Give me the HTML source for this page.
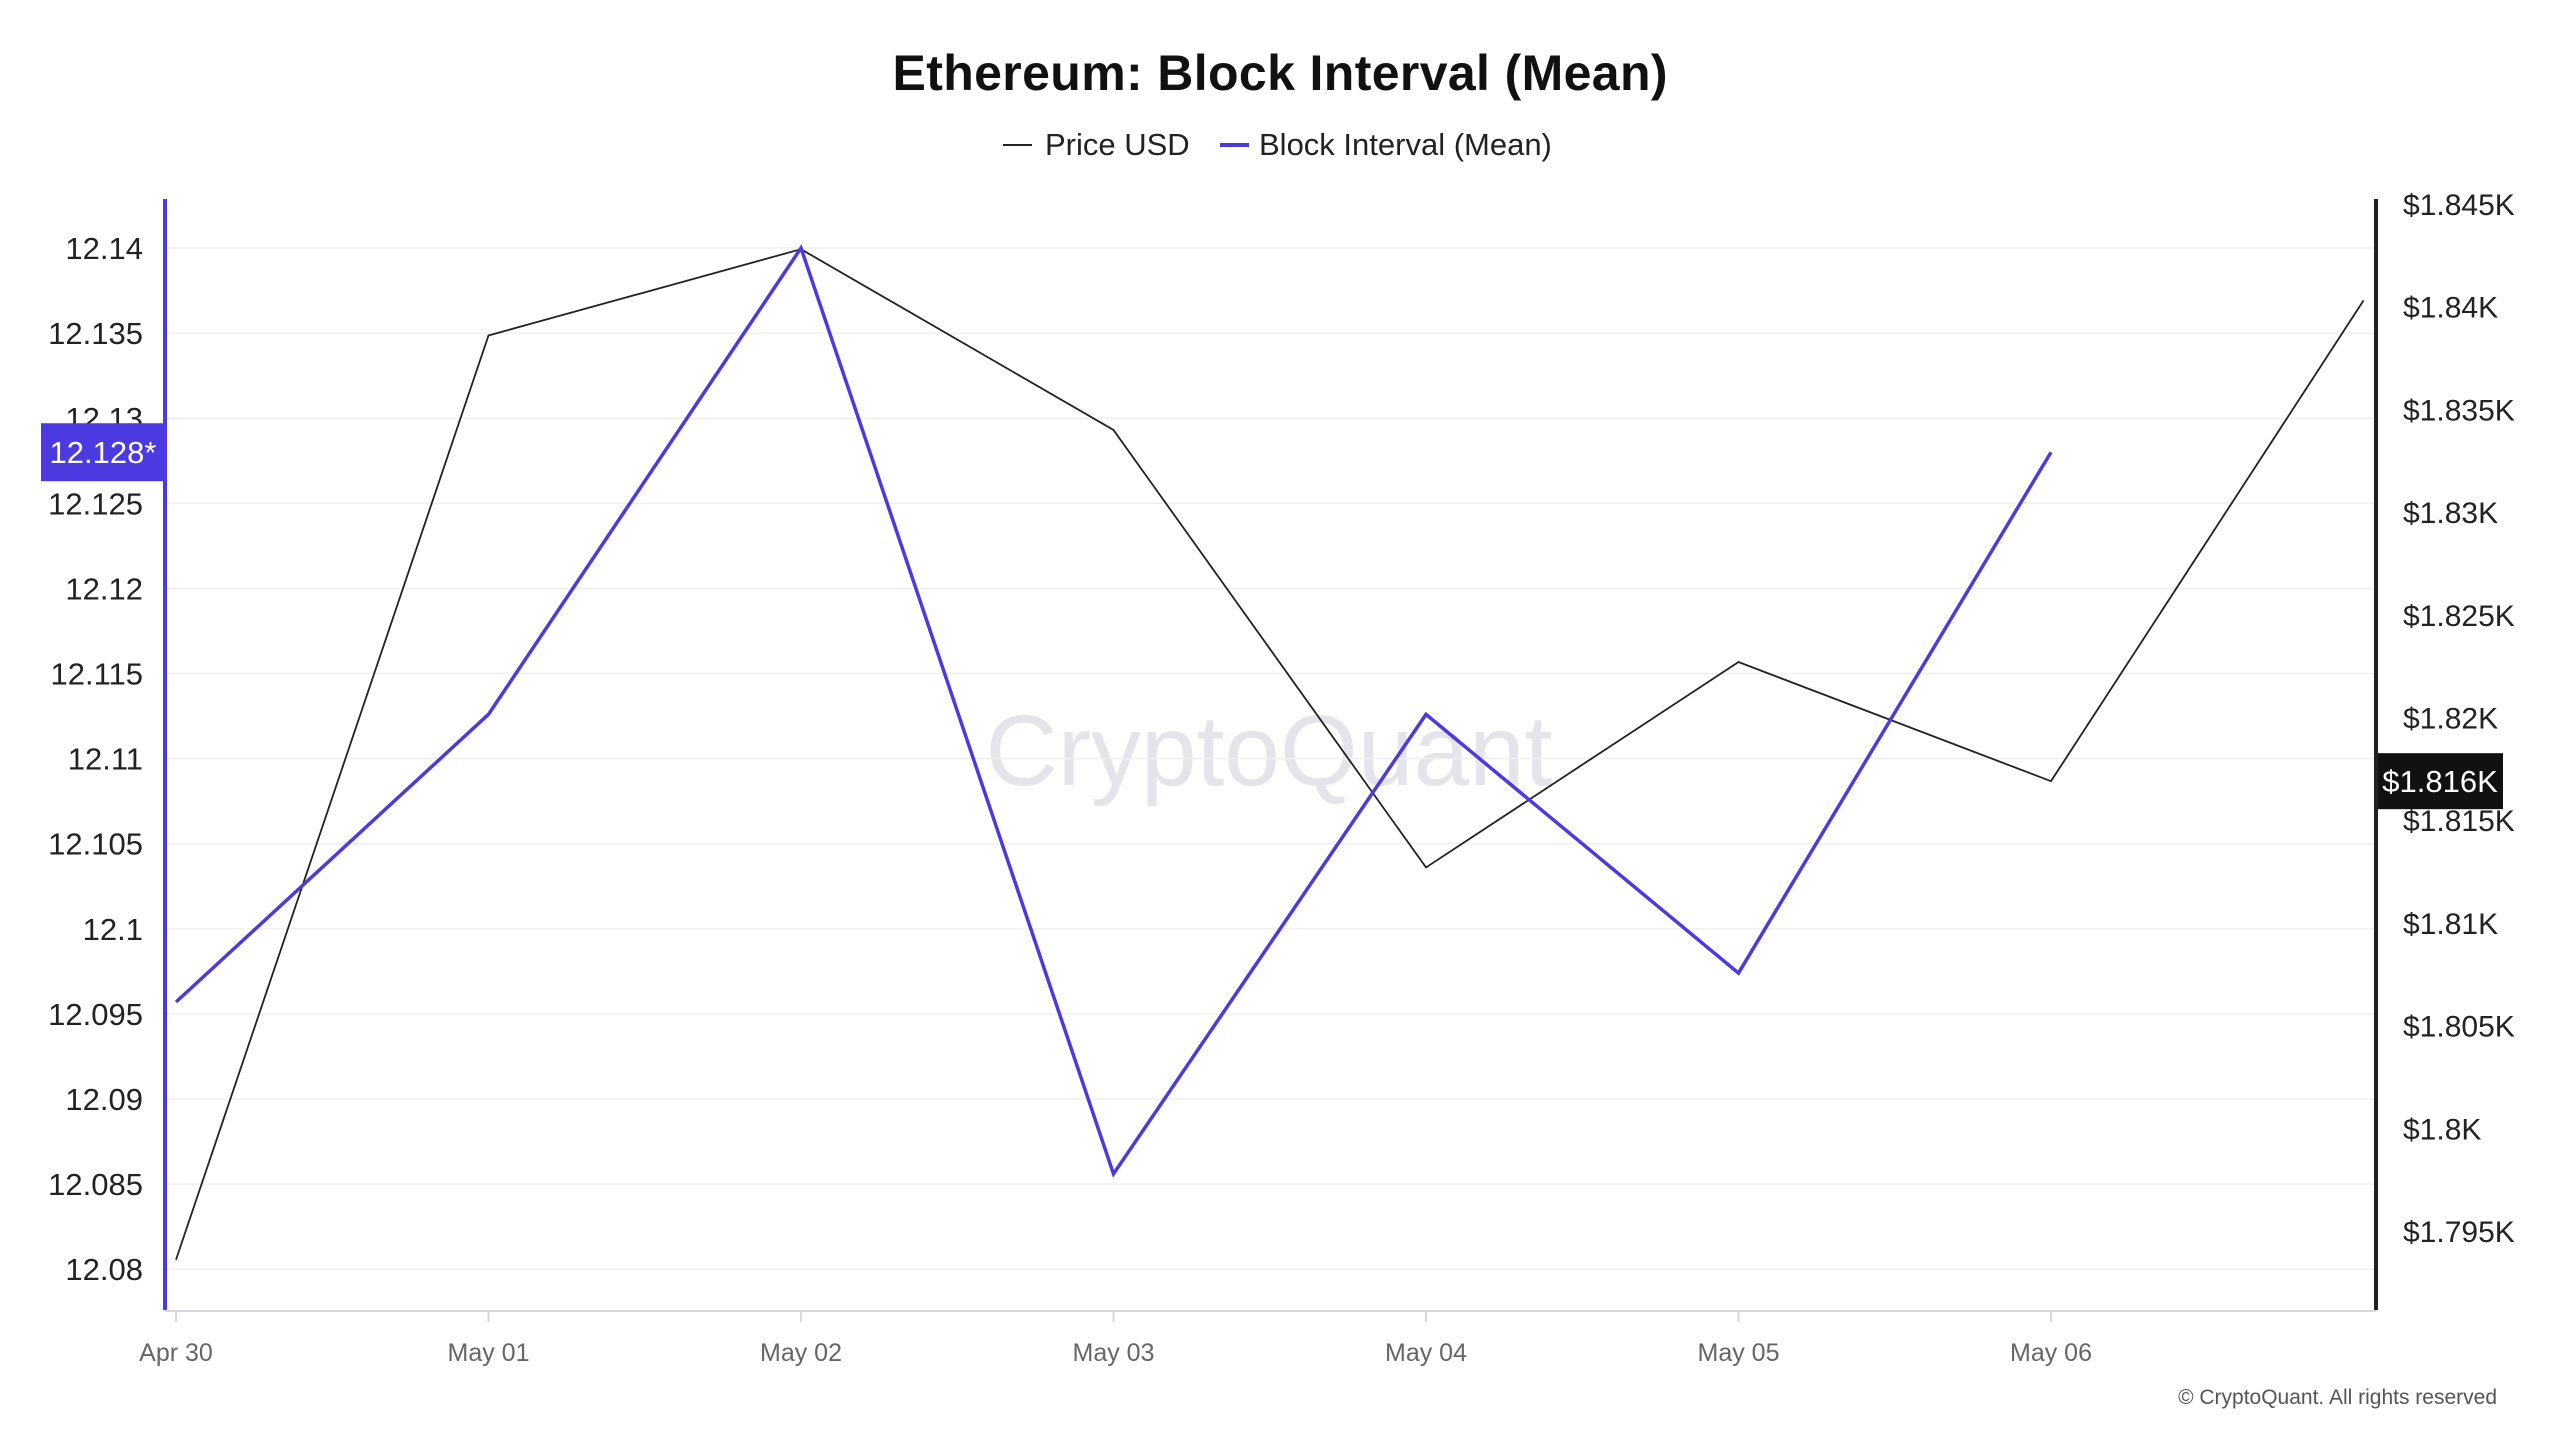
<!DOCTYPE html>
<html><head><meta charset="utf-8"><style>
html,body{margin:0;padding:0;background:#fff;}
svg{display:block;font-family:"Liberation Sans",sans-serif;}
</style></head><body>
<svg id="chart" width="2560" height="1440" viewBox="0 0 2560 1440">
<text x="1280" y="90" text-anchor="middle" font-size="50" font-weight="bold" fill="#111" textLength="775">Ethereum: Block Interval (Mean)</text>
<g>
<g><line x1="1003" y1="145" x2="1032" y2="145" stroke="#222" stroke-width="2"/><text x="1045" y="155" font-size="31" fill="#222">Price USD</text></g>
<g><line x1="1220" y1="145" x2="1249" y2="145" stroke="#4b3adf" stroke-width="4"/><text x="1259" y="155" font-size="31" fill="#222">Block Interval (Mean)</text></g>
</g>
<text x="1269" y="785" text-anchor="middle" font-size="100" fill="#e4e4ea">CryptoQuant</text>
<g id="grid"></g>
<g id="laxis"></g>
<g id="raxis"></g>
<g id="xaxis"></g>
<g id="series"></g>
<g id="badges"></g>
<text x="2497" y="1404" text-anchor="end" font-size="21" fill="#555">© CryptoQuant. All rights reserved</text>
</svg>
<script>
const dates = ["Apr 30","May 01","May 02","May 03","May 04","May 05","May 06"];
const blockInterval = [12.0957,12.1126,12.14,12.0856,12.1126,12.0974,12.128];
const priceUSD = [1793.6,1838.6,1842.8,1834.0,1812.7,1822.7,1816.9,1840.3];
const leftTicks = [12.08,12.085,12.09,12.095,12.1,12.105,12.11,12.115,12.12,12.125,12.13,12.135,12.14];
const rightTicks = [1795,1800,1805,1810,1815,1820,1825,1830,1835,1840,1845];

const NS="http://www.w3.org/2000/svg";
function mk(tag,attrs,parent,txt){const e=document.createElementNS(NS,tag);for(const k in attrs)e.setAttribute(k,attrs[k]);if(txt!=null)e.textContent=txt;parent.appendChild(e);return e;}
const X0=176, XSTEP=312.5, L=165, R=2376, TOP=199, BOT=1310;
const xs=i=>X0+i*XSTEP;
const yl=v=>248+(12.14-v)/0.005*85.1;
const yr=v=>204+(1845-v)/5*102.7;
const grid=document.getElementById('grid'), la=document.getElementById('laxis'), ra=document.getElementById('raxis'), xa=document.getElementById('xaxis'), se=document.getElementById('series'), bd=document.getElementById('badges');
leftTicks.forEach(t=>{
  const y=yl(t);
  const g=mk('line',{x1:L,x2:R,y1:y,y2:y,stroke:'#f0f0f0','stroke-width':1.5},grid);
  
  
  const lb=mk('text',{x:143,y:y+11,'text-anchor':'end','font-size':31,fill:'#222'},la,String(t));
  
  
});
mk('line',{x1:L,x2:L,y1:TOP,y2:BOT,stroke:'#4b3adf','stroke-width':4},la);
rightTicks.forEach(t=>{
  const y=yr(t);
  const lb=mk('text',{x:2403,y:y+11,'font-size':30,fill:'#222'},ra,'$'+(t/1000)+'K');
  
  
});
mk('line',{x1:R,x2:R,y1:TOP,y2:BOT,stroke:'#222','stroke-width':4},ra);
mk('line',{x1:L,x2:R,y1:1311,y2:1311,stroke:'#d8d8e0','stroke-width':2},xa);
dates.forEach((d,i)=>{
  const x=xs(i);
  mk('line',{x1:x,x2:x,y1:1311,y2:1322,stroke:'#d8d8e0','stroke-width':2},xa);
  const lb=mk('text',{x:x,y:1361,'text-anchor':'middle','font-size':25,fill:'#666'},xa,d);
  
  
});
const pp=mk('polyline',{points:priceUSD.map((v,i)=>xs(i)+','+yr(v)).join(' '),fill:'none',stroke:'#222','stroke-width':1.8},se);


const bp=mk('polyline',{points:blockInterval.map((v,i)=>xs(i)+','+yl(v)).join(' '),fill:'none',stroke:'#4b3adf','stroke-width':3.5},se);


const lastB=blockInterval[blockInterval.length-1], yb=yl(lastB);
mk('rect',{x:41,y:yb-29,width:124,height:58,fill:'#4b3adf'},bd);
const t1=mk('text',{x:103,y:yb+11,'text-anchor':'middle','font-size':31,fill:'#fff'},bd,lastB.toFixed(3)+'*');


const lastP=priceUSD[priceUSD.length-2], yp=yr(lastP);
mk('rect',{x:2378,y:yp-28,width:125,height:56,fill:'#111'},bd);
const t2=mk('text',{x:2440,y:yp+11,'text-anchor':'middle','font-size':31,fill:'#fff'},bd,'$'+(Math.floor(lastP)/1000).toFixed(3)+'K');


</script>
</body></html>
